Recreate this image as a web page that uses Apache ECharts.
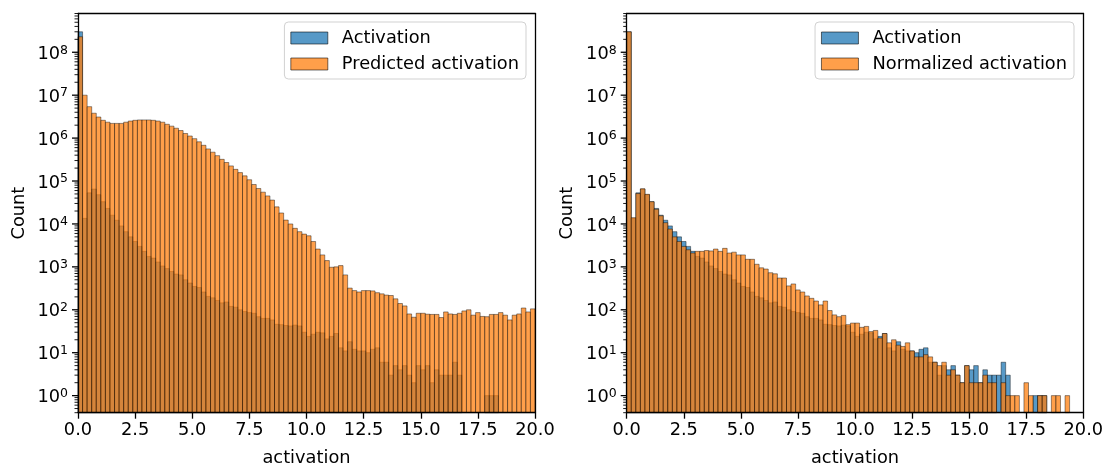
<!DOCTYPE html>
<html><head><meta charset="utf-8">
<script src="https://cdn.jsdelivr.net/npm/echarts@6/dist/echarts.min.js"></script>
<style>html,body{margin:0;padding:0;background:#fff}#c{width:1104px;height:465px}</style>
</head><body><div id="c"></div>
<script>
// ---- data ----
const binWidth = 0.2;               // histogram bin width, bins start at 0
const xTickLabels = ['0.0','2.5','5.0','7.5','10.0','12.5','15.0','17.5','20.0'];
const yTickExponents = [0,1,2,3,4,5,6,7,8];

const activation = [
  3e8, 1.35e4, 5.3e4, 6.5e4, 4.8e4, 3.3e4, 2.3e4, 1.6e4, 1.22e4, 9.0e3,
  6.6e3, 5.0e3, 3.9e3, 3.0e3, 2.3e3, 1.75e3, 1.6e3, 1.3e3, 1.05e3, 910,
  780, 680, 650, 500, 420, 350, 330, 260, 205, 190,
  165, 145, 152, 120, 115, 100, 91, 86, 83, 69,
  63, 63, 58, 46, 45, 43, 42, 44, 42, 30,
  24, 27, 30, 29, 21, 24, 28, 13, 11, 18,
  12, 11, 11, 10, 12, 13, 6, 6, 3, 5,
  4, 5, 3, 2, 5, 4, 5, 2, 4, 3,
  3, 3, 6, 3, 0, 0, 0, 0, 0, 1,
  1, 1, 0, 0, 0, 0, 0, 0, 0, 0
];
const predictedActivation = [
  2.3e8, 1.0e7, 5.4e6, 3.8e6, 3.1e6, 2.6e6, 2.35e6, 2.2e6, 2.2e6, 2.2e6,
  2.35e6, 2.5e6, 2.6e6, 2.65e6, 2.65e6, 2.65e6, 2.6e6, 2.5e6, 2.35e6, 2.1e6,
  1.9e6, 1.7e6, 1.5e6, 1.28e6, 1.12e6, 9.7e5, 8.2e5, 6.8e5, 5.6e5, 4.7e5,
  3.9e5, 3.2e5, 2.7e5, 2.25e5, 1.87e5, 1.57e5, 1.32e5, 1.07e5, 8.3e4, 6.7e4,
  5.5e4, 4.5e4, 3.6e4, 2.5e4, 1.8e4, 1.23e4, 1.0e4, 7.9e3, 6.6e3, 5.8e3,
  5.3e3, 3.9e3, 2.6e3, 1.9e3, 1.4e3, 980, 1000, 1070, 650, 320,
  280, 260, 280, 280, 275, 250, 235, 220, 215, 180,
  140, 123, 80, 67, 83, 83, 79, 78, 78, 66,
  89, 80, 78, 83, 94, 100, 75, 86, 70, 69,
  78, 78, 86, 75, 58, 75, 80, 110, 89, 105
];
const normalizedActivation = [
  3e8, 1.4e4, 5.1e4, 6.6e4, 4.9e4, 3.3e4, 2.2e4, 1.55e4, 1.07e4, 7.6e3,
  5.0e3, 3.9e3, 3.0e3, 2.5e3, 2.1e3, 2.3e3, 2.3e3, 2.4e3, 2.35e3, 2.6e3,
  2.3e3, 2.7e3, 2.1e3, 2.2e3, 1.9e3, 1.9e3, 1.5e3, 1.5e3, 1.15e3, 950,
  890, 730, 690, 550, 550, 360, 400, 290, 260, 210,
  185, 160, 130, 160, 96, 76, 69, 74, 45, 49,
  49, 39, 41, 31, 33, 22, 28, 17, 20, 15,
  14, 17, 11, 8, 8, 9, 8, 6, 5, 6,
  3, 4, 3, 2, 5, 2, 2, 2, 3, 2,
  2, 0, 2, 1, 1, 1, 0, 2, 1, 0,
  1, 1, 0, 1, 1, 0, 1, 0, 0, 0
];

// ---- build ----
const FONT = 'DejaVu Sans';
const FS = 17.8;
const Y_MIN = 0.4, Y_MAX = 8e8;
const BLUE = 'rgba(31,119,180,0.75)';
const ORANGE = 'rgba(255,127,14,0.75)';
const EDGE = 'rgba(0,0,0,0.7)';

function toBins(arr) {
  const out = [];
  arr.forEach((v, i) => { if (v > 0) out.push([i * binWidth, (i + 1) * binWidth, v]); });
  return out;
}
function barRender(params, api) {
  const p0 = api.coord([api.value(0), api.value(2)]);
  const p1 = api.coord([api.value(1), Y_MIN]);
  return {
    type: 'rect',
    shape: { x: p0[0], y: p0[1], width: p1[0] - p0[0], height: p1[1] - p0[1] },
    style: { fill: api.visual('color'), stroke: EDGE, lineWidth: 0.6 }
  };
}
const yTickData = [];
yTickExponents.forEach(e => yTickData.push([0, Math.pow(10, e), 1]));
for (let e = -1; e <= 8; e++) for (let k = 2; k <= 9; k++) {
  const v = k * Math.pow(10, e);
  if (v >= Y_MIN && v <= Y_MAX) yTickData.push([0, v, 0]);
}
function tickRender(params, api) {
  const p = api.coord([0, api.value(1)]);
  const major = api.value(2) === 1;
  const len = major ? 6 : 3.5;
  return { type: 'line', shape: { x1: p[0] - len, y1: p[1], x2: p[0], y2: p[1] },
           style: { stroke: '#000', lineWidth: major ? 1.3 : 0.9 } };
}

const grids = [
  { left: 78, top: 13.5, width: 457, height: 399.2, outerBoundsMode: 'none', containLabel: false },
  { left: 626.7, top: 13.5, width: 456.6, height: 399.2, outerBoundsMode: 'none', containLabel: false }
];
const xAxes = [], yAxes = [];
[0, 1].forEach(g => {
  xAxes.push({
    type: 'value', gridIndex: g, min: 0, max: 20, interval: 2.5, z: 10,
    name: 'activation', nameLocation: 'middle', nameGap: 37,
    nameTextStyle: { fontFamily: FONT, fontSize: FS, color: '#000' },
    axisLine: { show: true, lineStyle: { color: '#000', width: 1.3 } },
    axisTick: { show: true, length: 6, lineStyle: { color: '#000', width: 1.3 } },
    axisLabel: { fontFamily: FONT, fontSize: FS, color: '#000', margin: 9,
      formatter: v => xTickLabels[Math.round(v / 2.5)] },
    splitLine: { show: false }
  });
  xAxes.push({
    type: 'value', gridIndex: g, position: 'top', min: 0, max: 20, z: 10,
    axisLine: { show: true, onZero: false, lineStyle: { color: '#000', width: 1.3 } },
    axisTick: { show: false }, axisLabel: { show: false }, splitLine: { show: false }
  });
  yAxes.push({
    type: 'log', logBase: 10, gridIndex: g, min: Y_MIN, max: Y_MAX, splitNumber: 10, z: 10,
    name: 'Count', nameLocation: 'middle', nameGap: 50,
    nameTextStyle: { fontFamily: FONT, fontSize: FS, color: '#000' },
    axisLine: { show: true, lineStyle: { color: '#000', width: 1.3 } },
    axisTick: { show: false },
    axisLabel: {
      show: true, margin: 10, showMinLabel: false, showMaxLabel: false,
      formatter: v => {
        const e = Math.log10(v), r = Math.round(e);
        if (Math.abs(e - r) > 1e-6 || yTickExponents.indexOf(r) < 0) return '';
        return '{a|10}{b|' + r + '}';
      },
      rich: {
        a: { fontFamily: FONT, fontSize: FS, color: '#000', lineHeight: 17, padding: [4, 0, 0, 0] },
        b: { fontFamily: FONT, fontSize: 12.5, color: '#000', lineHeight: 12, verticalAlign: 'top' }
      }
    },
    splitLine: { show: false }
  });
  yAxes.push({
    type: 'log', gridIndex: g, position: 'right', min: Y_MIN, max: Y_MAX, z: 10,
    axisLine: { show: true, onZero: false, lineStyle: { color: '#000', width: 1.3 } },
    axisTick: { show: false }, axisLabel: { show: false }, splitLine: { show: false }
  });
});

function histSeries(name, arr, color, g) {
  return {
    type: 'custom', name: name, xAxisIndex: g * 2, yAxisIndex: g * 2,
    coordinateSystem: 'cartesian2d', renderItem: barRender,
    itemStyle: { color: color, borderColor: EDGE, borderWidth: 0.8 },
    encode: { x: [0, 1], y: 2 }, data: toBins(arr), silent: true
  };
}
function tickSeries(g) {
  return {
    type: 'custom', name: 'yticks' + g, xAxisIndex: g * 2, yAxisIndex: g * 2,
    coordinateSystem: 'cartesian2d', renderItem: tickRender, z: 20,
    encode: { x: 0, y: 1 }, data: yTickData, silent: true
  };
}
function legendFor(names, colors, pos) {
  return Object.assign({
    top: 22, orient: 'vertical', itemWidth: 37, itemHeight: 12, itemGap: 6,
    padding: [6, 7, 5, 6], backgroundColor: 'rgba(255,255,255,0.8)',
    borderColor: 'rgba(204,204,204,0.9)', borderWidth: 1, borderRadius: 4,
    selectedMode: false, icon: 'rect',
    textStyle: { fontFamily: FONT, fontSize: FS, color: '#000', lineHeight: 20, padding: [0, 0, 0, 9] },
    data: names.map((n, i) => ({ name: n, itemStyle: { color: colors[i], borderColor: EDGE, borderWidth: 0.8 } }))
  }, pos);
}

const chart = echarts.init(document.getElementById('c'), null, { renderer: 'canvas' });
chart.setOption({
  animation: false,
  backgroundColor: '#fff',
  grid: grids,
  xAxis: xAxes,
  yAxis: yAxes,
  legend: [
    legendFor(['Activation', 'Predicted activation'], [BLUE, ORANGE], { right: 578 }),
    legendFor(['Activation', 'Normalized activation'], [BLUE, ORANGE], { right: 30 })
  ],
  series: [
    histSeries('Activation', activation, BLUE, 0),
    histSeries('Predicted activation', predictedActivation, ORANGE, 0),
    tickSeries(0),
    histSeries('Activation', activation, BLUE, 1),
    histSeries('Normalized activation', normalizedActivation, ORANGE, 1),
    tickSeries(1)
  ]
});
</script>
</body></html>
